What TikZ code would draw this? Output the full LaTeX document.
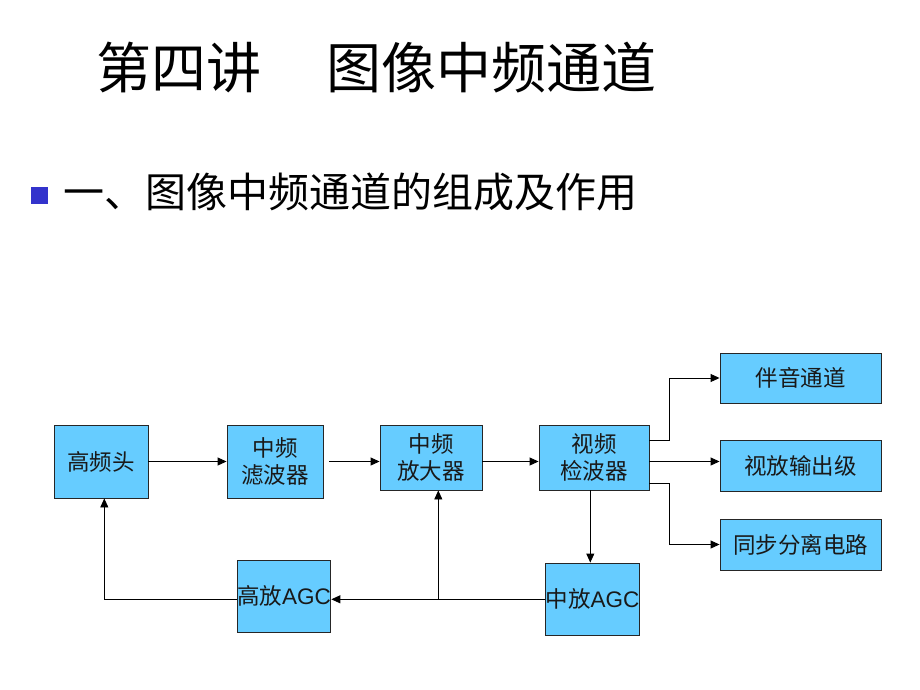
\documentclass[tikz,border=0pt]{standalone}
\usepackage{fontspec}
\setmainfont{Liberation Sans}
\newfontfamily\cjk{Noto Sans CJK SC}
\newfontfamily\lat{Liberation Sans}
\usetikzlibrary{arrows.meta}
\definecolor{boxblue}{RGB}{102,204,255}
\definecolor{bulletblue}{RGB}{51,51,204}
\begin{document}
\begin{tikzpicture}[x=1pt,y=-1pt,
  blk/.style={draw=black!85, line width=0.9pt, fill=boxblue, inner sep=0pt, align=center,
    font=\cjk\fontsize{22.5}{27}\selectfont, text=black!90},
  arr/.style={line width=0.9pt, -{Triangle[length=9pt,width=8pt]}},
  ln/.style={line width=0.9pt}]
\path[use as bounding box, fill=white] (0,0) rectangle (920,690);

% title and bullet
\node[anchor=west, inner sep=0pt, font=\cjk\fontsize{55}{60}\selectfont] (title) at (96,67.5) {第四讲\hspace{65pt}图像中频通道};
\node[fill=bulletblue, inner sep=0pt, minimum size=17pt] (bul) at (39.5,195.5) {};
\node[anchor=west, inner sep=0pt, font=\cjk\fontsize{41}{45}\selectfont] (sub) at (63,192) {一、图像中频通道的组成及作用};

% blocks
\node[blk, minimum width=94pt, minimum height=73pt] (hf) at (101,461.5) {高频头};
\node[blk, minimum width=96pt, minimum height=73pt] (lb) at (275,461.5) {中频\\滤波器};
\node[blk, minimum width=102pt, minimum height=65pt] (fd) at (431,457.5) {中频\\放大器};
\node[blk, minimum width=110pt, minimum height=65pt] (jb) at (594,457.5) {视频\\检波器};
\node[blk, minimum width=92pt, minimum height=72pt] (ga) at (284,596) {高放{\lat AGC}};
\node[blk, minimum width=91pt, minimum height=72pt] (zf) at (592.5,599) {中放{\lat AGC}};
\node[blk, minimum width=161pt, minimum height=50pt] (by) at (800.5,378) {伴音通道};
\node[blk, minimum width=161pt, minimum height=51pt] (sf) at (800.5,465.5) {视放输出级};
\node[blk, minimum width=161pt, minimum height=51pt] (tb) at (800.5,544.5) {同步分离电路};

% forward path
\coordinate (g1) at (329,461.5);
\draw[arr] (hf.east |- 0,461.5) -- (lb.west |- 0,461.5);
\draw[arr] (g1) -- (fd.west |- g1);
\draw[arr] (fd.east |- 0,461.5) -- (jb.west |- 0,461.5);

% detector outputs
\draw[arr] (jb.east |- 0,440) -- (669,440) |- (by.west);
\draw[arr] (jb.east |- 0,461.5) -- (sf.west |- 0,461.5);
\draw[arr] (jb.east |- 0,483.3) -- (669,483.3) |- (tb.west);
\draw[arr] (jb.south -| 590.3,0) -- (zf.north -| 590.3,0);

% AGC feedback
\coordinate (jn) at (438.3,599.3);
\draw[arr] (zf.west |- jn) -- (ga.east |- jn);
\draw[arr] (jn) -- (fd.south -| jn);
\draw[arr] (ga.west |- jn) -- (104.3,599.3) -- (hf.south -| 104.3,0);
\end{tikzpicture}
\end{document}
